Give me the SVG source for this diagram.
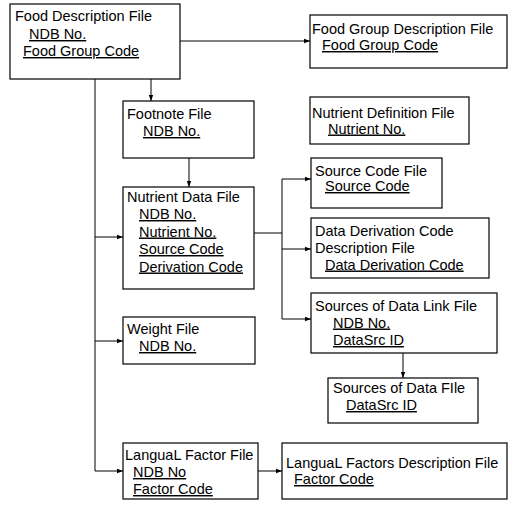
<svg xmlns="http://www.w3.org/2000/svg" width="527" height="506" viewBox="0 0 527 506">
<style>
  .box { fill: #fff; stroke: #000; stroke-width: 1.2; }
  .t { font-family: "Liberation Sans", Arial, sans-serif; font-size: 14.5px; fill: #000; }
  .u { text-decoration: underline; }
  .ln { fill: none; stroke: #000; stroke-width: 1; }
  .ar { marker-end: url(#ah); }
</style>
<defs>
  <marker id="ah" markerUnits="userSpaceOnUse" markerWidth="6" markerHeight="6" viewBox="0 0 6 6" refX="6" refY="3" orient="auto">
    <path d="M0,0.8 L6,3 L0,5.2 Z" fill="#000"/>
  </marker>
</defs>
<rect width="527" height="506" fill="#fff"/>

<g id="connectors">
  <line class="ln ar" x1="180" y1="41" x2="310" y2="41"/>
  <line class="ln ar" x1="151" y1="79" x2="151" y2="101"/>
  <line class="ln ar" x1="189" y1="158" x2="189" y2="187"/>
  <line class="ln" x1="95" y1="79" x2="95" y2="471"/>
  <line class="ln ar" x1="95" y1="237" x2="123" y2="237"/>
  <line class="ln ar" x1="95" y1="341" x2="123" y2="341"/>
  <line class="ln ar" x1="95" y1="471" x2="123" y2="471"/>
  <line class="ln" x1="254" y1="233" x2="282" y2="233"/>
  <line class="ln" x1="282" y1="179" x2="282" y2="319"/>
  <line class="ln ar" x1="282" y1="179" x2="311" y2="179"/>
  <line class="ln ar" x1="282" y1="249" x2="311" y2="249"/>
  <line class="ln ar" x1="282" y1="319" x2="311" y2="319"/>
  <line class="ln ar" x1="403" y1="353" x2="403" y2="378"/>
  <line class="ln ar" x1="258" y1="471" x2="282" y2="471"/>
</g>

<g id="food-description">
  <rect class="box" x="10" y="4" width="170" height="75"/>
  <text class="t" x="15" y="21">Food Description File</text>
  <text class="t u" x="29" y="39">NDB No.</text>
  <text class="t u" x="23" y="56">Food Group Code</text>
</g>

<g id="food-group-description">
  <rect class="box" x="310" y="15" width="197" height="53"/>
  <text class="t" x="312" y="34">Food Group Description File</text>
  <text class="t u" x="322" y="50">Food Group Code</text>
</g>

<g id="footnote">
  <rect class="box" x="123" y="101" width="131" height="57"/>
  <text class="t" x="127" y="119">Footnote File</text>
  <text class="t u" x="143" y="136">NDB No.</text>
</g>

<g id="nutrient-definition">
  <rect class="box" x="310" y="97" width="159" height="47"/>
  <text class="t" x="312" y="118">Nutrient Definition File</text>
  <text class="t u" x="328" y="133.5">Nutrient No.</text>
</g>

<g id="nutrient-data">
  <rect class="box" x="123" y="187" width="131" height="102"/>
  <text class="t" x="127" y="202">Nutrient Data File</text>
  <text class="t u" x="139" y="219">NDB No.</text>
  <text class="t u" x="139" y="236.5">Nutrient No.</text>
  <text class="t u" x="139" y="254">Source Code</text>
  <text class="t u" x="139" y="271.5">Derivation Code</text>
</g>

<g id="source-code">
  <rect class="box" x="311" y="158" width="131" height="50"/>
  <text class="t" x="315" y="176">Source Code File</text>
  <text class="t u" x="325" y="191">Source Code</text>
</g>

<g id="data-derivation">
  <rect class="box" x="311" y="218" width="178" height="60"/>
  <text class="t" x="315" y="236">Data Derivation Code</text>
  <text class="t" x="315" y="253">Description File</text>
  <text class="t u" x="325" y="269.5">Data Derivation Code</text>
</g>

<g id="sources-link">
  <rect class="box" x="311" y="293" width="186" height="60"/>
  <text class="t" x="315" y="311">Sources of Data Link File</text>
  <text class="t u" x="333" y="327.5">NDB No.</text>
  <text class="t u" x="333" y="345">DataSrc ID</text>
</g>

<g id="sources-of-data">
  <rect class="box" x="328" y="378" width="150" height="45"/>
  <text class="t" x="333" y="393">Sources of Data FIle</text>
  <text class="t u" x="346" y="410">DataSrc ID</text>
</g>

<g id="weight">
  <rect class="box" x="123" y="317" width="132" height="47"/>
  <text class="t" x="127" y="334">Weight File</text>
  <text class="t u" x="139" y="351">NDB No.</text>
</g>

<g id="langual-factor">
  <rect class="box" x="123" y="443" width="135" height="56"/>
  <text class="t" x="125" y="460">LanguaL Factor File</text>
  <text class="t u" x="133" y="477">NDB No</text>
  <text class="t u" x="133" y="494">Factor Code</text>
</g>

<g id="langual-factors-description">
  <rect class="box" x="282" y="443" width="225" height="56"/>
  <text class="t" x="286" y="468">LanguaL Factors Description File</text>
  <text class="t u" x="294" y="484">Factor Code</text>
</g>
</svg>
